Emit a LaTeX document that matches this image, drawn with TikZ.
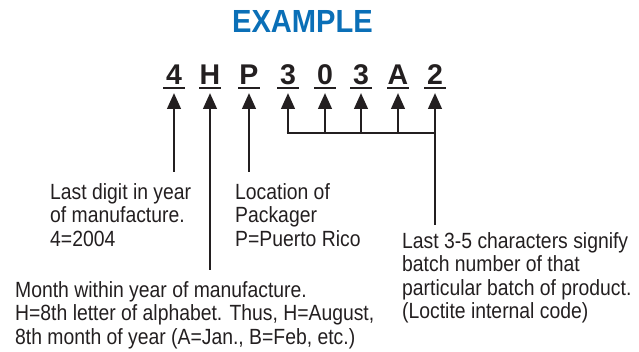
\documentclass[tikz,border=0pt]{standalone}
\usepackage{fontspec}
\setmainfont{Liberation Sans}[FakeStretch=0.88]
\newfontfamily\titlefont{Liberation Sans}[FakeStretch=0.91]
\newfontfamily\codefont{Liberation Sans}
\usetikzlibrary{calc,arrows.meta}
\definecolor{titleblue}{HTML}{0A6FB7}
\definecolor{ink}{HTML}{231F20}
\begin{document}
\begin{tikzpicture}[x=1pt,y=-1pt,
  titlestyle/.style={font=\titlefont\bfseries\fontsize{32}{36}\selectfont, text=titleblue, inner sep=0pt, anchor=base},
  codechar/.style={font=\codefont\bfseries\fontsize{28.5}{30}\selectfont, text=ink, inner sep=0pt, anchor=base},
  uline/.style={draw=ink, line width=1.6pt},
  arr/.style={draw=ink, line width=2.8pt, -{Triangle[length=16pt,width=13.5pt]}},
  link/.style={draw=ink, line width=2.8pt},
  desc/.style={font=\fontsize{22}{23.5}\selectfont, text=ink, inner sep=0pt, anchor=north west, align=left}
]
\useasboundingbox (0,0) rectangle (639,352);
\node[titlestyle] (title) at (302.5,33) {EXAMPLE};
\foreach \i/\x/\c in {1/174/4,2/210/H,3/249/P,4/288/3,5/325/0,6/361/3,7/398/A,8/435/2}{
  \node[codechar] (c\i) at (\x,85) {\c};
  \draw[uline] ($(c\i.base)+(-11,3)$) -- ($(c\i.base)+(11,3)$);
}
% arrow ends
\coordinate (e1) at (174,172);
\coordinate (e2) at (210,270);
\coordinate (e3) at (249,172);
\coordinate (b4) at (288,133);
\coordinate (b5) at (325,133);
\coordinate (b6) at (361,133);
\coordinate (b7) at (398,133);
\coordinate (b8) at (435,133);
\coordinate (e8) at (435,225);
\foreach \s/\i in {e1/1,e2/2,e3/3,b4/4,b5/5,b6/6,b7/7,e8/8}{
  \draw[arr] (\s) -- ($(c\i.base)+(0,8)$);
}
\draw[link] ([xshift=-1.4pt]b4) -- ([xshift=1.4pt]b8);
% descriptions
\node[desc] (d1) at (50,183) {Last digit in year\\of manufacture.\\4=2004};
\node[desc] (d3) at (235,183) {Location of\\Packager\\P=Puerto Rico};
\node[desc] (d2) at (15,281) {Month within year of manufacture.\\H=8th letter of alphabet. Thus, H=August,\\8th month of year (A=Jan., B=Feb, etc.)};
\node[desc] (d8) at (402,232) {Last 3-5 characters signify\\batch number of that\\particular batch of product.\\(Loctite internal code)};
\end{tikzpicture}
\end{document}
